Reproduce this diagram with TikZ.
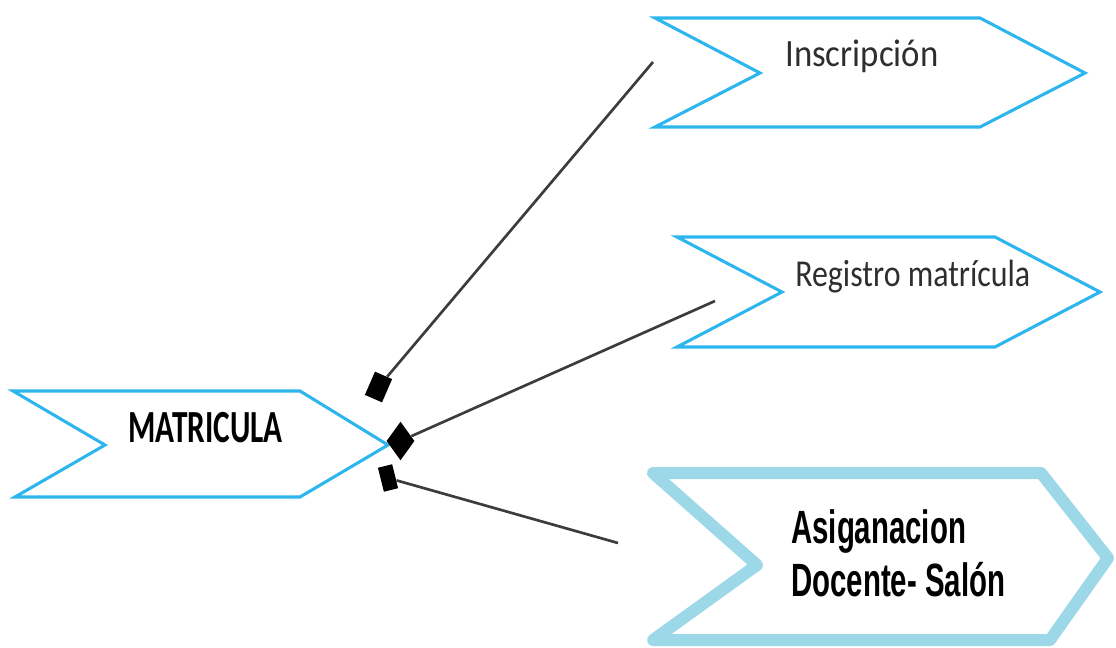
\documentclass[tikz,border=0pt]{standalone}
\usepackage{fontspec}
\usetikzlibrary{shapes.geometric}
\newfontfamily\matfont[FakeStretch=0.68]{Carlito}
\newfontfamily\insfont[FakeStretch=0.90]{Carlito}
\newfontfamily\regfont[FakeStretch=0.84]{Carlito}
\newfontfamily\asigfont[FakeStretch=0.63]{Liberation Sans}
\definecolor{chevblue}{HTML}{2DB5EE}
\definecolor{chevpale}{HTML}{9DD8E8}
\definecolor{linkgray}{HTML}{3C3C3C}
\definecolor{textgray}{HTML}{2E2E2E}
\tikzset{
  thinchev/.style={draw=chevblue, line width=2.3pt, line join=miter},
  thickchev/.style={draw=chevpale, line width=9pt, line join=round},
  link/.style={draw=linkgray, line width=2pt},
  marker/.style={fill=black, draw=none, inner sep=0pt, rectangle},
  lbl/.style={inner sep=0pt, anchor=base west}
}
\begin{document}
\begin{tikzpicture}[x=0.75pt, y=-0.75pt]
\useasboundingbox (0,0) rectangle (1116,648);

% chevrons
\draw[thinchev] (13,391) -- (300,391) -- (388,445) -- (300,497) -- (15,497) -- (105,445) -- cycle;
\draw[thinchev] (655,18) -- (980,18) -- (1085,73) -- (980,127) -- (655,127) -- (760,73) -- cycle;
\draw[thinchev] (677,237) -- (995,237) -- (1100,292) -- (995,347) -- (677,347) -- (782,292) -- cycle;
\draw[thickchev] (653,473) -- (1041,473) -- (1108,558) -- (1050,640) -- (653,640) -- (757,565) -- cycle;

% labels
\node[lbl, text=black] (matricula) at (128,442)
  {\matfont\bfseries\fontsize{34.5}{40}\selectfont MATRICULA};
\node[lbl, text=textgray] (inscripcion) at (785,67)
  {\insfont\fontsize{29}{34}\selectfont Inscripción};
\node[lbl, text=textgray] (registro) at (795,287)
  {\regfont\fontsize{28.5}{34}\selectfont Registro matrícula};
\node[inner sep=0pt, anchor=north west, align=left, text=black,
      font=\asigfont\bfseries\fontsize{35}{40}\selectfont] (asignacion) at (791,509)
  {Asiganacion\\Docente- Salón};

% connector markers
\node[marker, minimum width=14pt, minimum height=19pt, rotate=-23.5] (m1) at (378.5,387) {};
\node[diamond, fill=black, inner sep=0pt, minimum width=21pt, minimum height=29pt] (m2) at (400.5,441) {};
\node[marker, minimum width=11pt, minimum height=18.5pt, rotate=14] (m3) at (388,478) {};

% free ends of the connectors
\coordinate (e1) at (653,62);
\coordinate (e2) at (715,301);
\coordinate (e3) at (618,543);

\draw[link] (m1) -- (e1);
\draw[link] (m2) -- (e2);
\draw[link] (m3) -- (e3);
\end{tikzpicture}
\end{document}
